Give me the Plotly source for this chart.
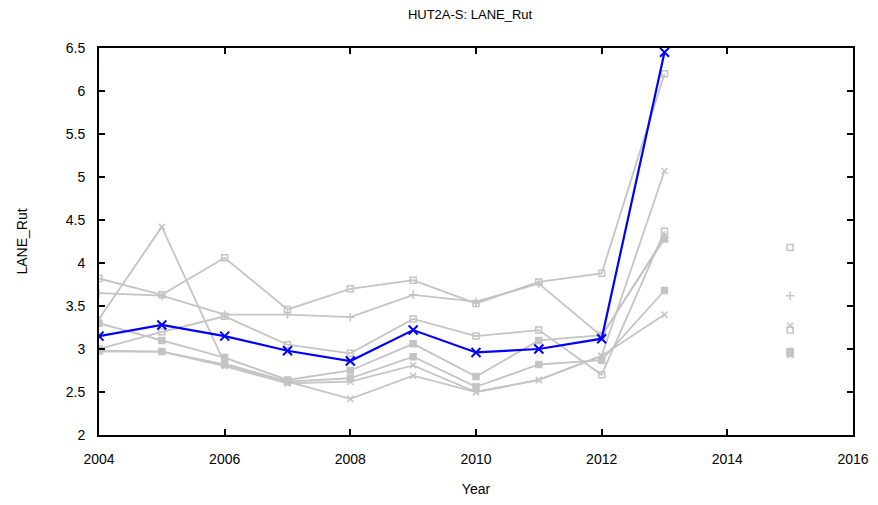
import plotly.graph_objects as go

# years with data, 2014 left empty so the 2015 points stand alone
years = [2004, 2005, 2006, 2007, 2008, 2009, 2010, 2011, 2012, 2013, 2014, 2015]

# grey comparison sections
sec_a = [3.82, 3.63, 4.06, 3.46, 3.70, 3.80, 3.53, 3.78, 3.88, 6.20, None, 4.18]
sec_b = [3.65, 3.62, 3.40, 3.40, 3.37, 3.63, 3.55, 3.76, 3.15, 4.30, None, 3.62]
sec_c = [3.35, 4.42, 2.83, 2.62, 2.42, 2.69, 2.50, 2.64, 2.92, 5.07, None, 3.27]
sec_d = [3.00, 3.20, 3.38, 3.05, 2.95, 3.35, 3.15, 3.22, 2.70, 4.37, None, 3.22]
sec_e = [3.30, 3.10, 2.90, 2.64, 2.75, 3.06, 2.68, 3.10, 3.16, 4.28, None, 2.97]
sec_f = [2.98, 2.97, 2.82, 2.62, 2.66, 2.91, 2.56, 2.82, 2.87, 3.68, None, 2.95]
sec_g = [2.97, 2.97, 2.80, 2.60, 2.62, 2.81, 2.50, 2.64, 2.92, 3.40, None, 2.93]

# highlighted section (blue)
hut2a = [3.15, 3.28, 3.15, 2.98, 2.86, 3.22, 2.96, 3.00, 3.12, 6.45]

x_ticks = [2004, 2006, 2008, 2010, 2012, 2014, 2016]
y_ticks = [2, 2.5, 3, 3.5, 4, 4.5, 5, 5.5, 6, 6.5]

grey = "#c4c4c4"

fig = go.Figure()

greys = [
    (sec_a, "square-open"),
    (sec_b, "cross-thin"),
    (sec_c, "x-thin"),
    (sec_d, "square-open"),
    (sec_e, "square"),
    (sec_f, "square"),
    (sec_g, "x-thin"),
]
for vals, sym in greys:
    fig.add_trace(go.Scatter(
        x=years, y=vals, mode="lines+markers",
        line=dict(color=grey, width=1.8),
        marker=dict(symbol=sym, size=6, color=grey,
                    line=dict(color=grey, width=1.5)),
        connectgaps=False, showlegend=False,
    ))

fig.add_trace(go.Scatter(
    x=years[:10], y=hut2a, mode="lines+markers",
    line=dict(color="#0000ff", width=2.2),
    marker=dict(symbol="x-thin", size=9, color="#0000ff",
                line=dict(color="#0000ff", width=2)),
    showlegend=False,
))

axis_style = dict(
    showline=True, linecolor="black", linewidth=2, mirror="ticks",
    ticks="inside", ticklen=6, tickcolor="black", tickwidth=1.5,
    showgrid=False, zeroline=False, automargin=False,
    tickfont=dict(family="Liberation Sans, Arial", size=14, color="black"),
)

fig.update_xaxes(range=[2004, 2016], tickvals=x_ticks, ticklabelstandoff=10,
                 title=dict(text="Year", font=dict(size=14, color="black"), standoff=21),
                 **axis_style)
fig.update_yaxes(range=[2, 6.5], tickvals=y_ticks, ticklabelstandoff=9,
                 ticktext=[str(v) if v % 1 else str(int(v)) for v in y_ticks],
                 title=dict(text="LANE_Rut", font=dict(size=14, color="black"), standoff=35),
                 **axis_style)

# page body adds 8px, so the figure is a bit smaller than the window
fig.update_layout(
    width=862, height=489,
    margin=dict(l=91, r=17, t=40, b=62),
    paper_bgcolor="white", plot_bgcolor="white",
    font=dict(family="Liberation Sans, Arial", color="black"),
    title=dict(text="HUT2A-S: LANE_Rut", x=0.536, xanchor="center",
               y=0.986, yanchor="middle",
               font=dict(size=13, color="black")),
)

fig.write_html("out.html")
